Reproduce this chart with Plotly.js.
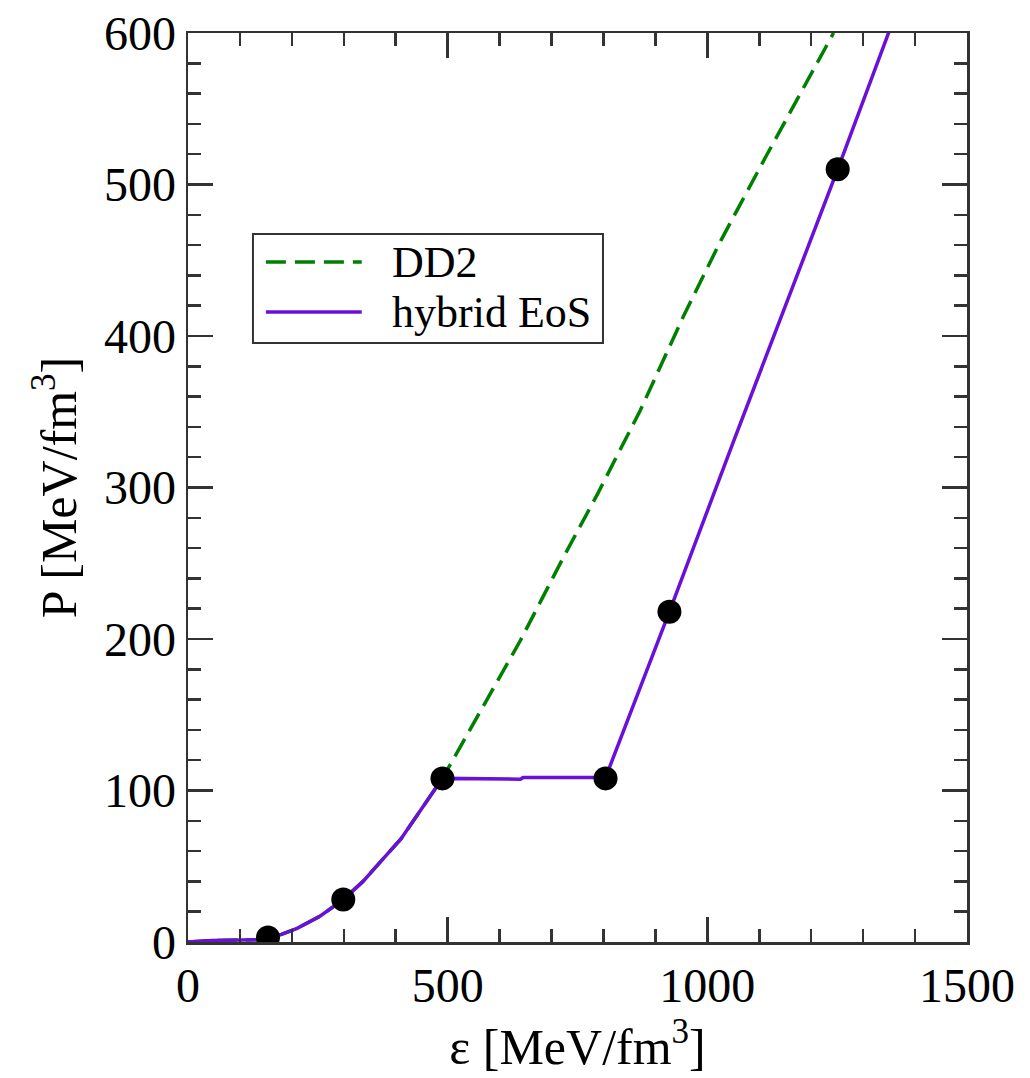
<!DOCTYPE html>
<html>
<head>
<meta charset="utf-8">
<script src="https://cdn.plot.ly/plotly-3.0.1.min.js"></script>
<style>html,body{margin:0;padding:0;background:#fff;}</style>
</head>
<body>
<div id="chart" style="width:1030px;height:1078px;"></div>
<script>
// DD2 equation of state (energy density vs pressure)
const dd2Eps = [0, 46, 139, 154, 180, 210, 254, 299, 337, 376, 410, 434, 472, 490, 640, 723, 789, 833, 871, 954, 1026, 1112, 1193, 1243];
const dd2P   = [0, 1, 1.5, 3, 5, 9, 17, 28, 40, 55, 68, 80, 99, 108, 199, 254, 296, 325, 351, 413, 463, 518, 569, 600];

// hybrid EoS
const hybEps = [0, 46, 139, 154, 180, 210, 254, 299, 337, 376, 410, 434, 472, 490, 640, 645, 804, 927, 1051, 1251, 1350];
const hybP   = [0, 1, 1.5, 3, 5, 9, 17, 28, 40, 55, 68, 80, 99, 108, 107.5, 108.5, 108.5, 218, 331, 510, 601];

// marked points on hybrid EoS
const dotEps = [154, 299, 490, 804, 927, 1251];
const dotP   = [3, 28, 108, 108, 218, 510];

const xTicks = [0, 500, 1000, 1500];
const yTicks = [0, 100, 200, 300, 400, 500, 600];

const seriesNames = ["DD2", "hybrid EoS"];
const seriesColors = ["#008000", "#6a10d8"];
const seriesDash = ["20px,9px", "solid"];

const serif = "Liberation Serif, Times New Roman, serif";
const frame = "#333333";

const traces = [
  {x: dd2Eps, y: dd2P, mode: "lines", name: seriesNames[0],
   line: {color: seriesColors[0], width: 3.5, dash: seriesDash[0]}},
  {x: hybEps, y: hybP, mode: "lines", name: seriesNames[1],
   line: {color: seriesColors[1], width: 3.5}},
  {x: dotEps, y: dotP, mode: "markers", showlegend: false,
   marker: {color: "#000000", size: 24}}
];

const axisCommon = {
  showgrid: false, zeroline: false,
  showline: true, linecolor: frame, linewidth: 2.5, mirror: "allticks",
  ticks: "inside", ticklen: 25, tickwidth: 2.5, tickcolor: frame,
  tickfont: {family: serif, size: 48, color: "#000"},
  minor: {ticks: "inside", ticklen: 13, tickwidth: 2.5, tickcolor: frame}
};

// hand-placed legend box (paper coordinates)
const legX0 = 0.0834, legX1 = 0.5327, legY0 = 0.659, legY1 = 0.779;
const legRows = [0.748, 0.693];
const legLineX0 = 0.100, legLineX1 = 0.223, legTextX = 0.259;

const shapes = [
  {type: "rect", xref: "paper", yref: "paper", x0: legX0, x1: legX1, y0: legY0, y1: legY1,
   line: {color: frame, width: 2}, fillcolor: "#fff", layer: "above"}
];
const annotations = [];
seriesNames.forEach((nm, i) => {
  shapes.push({type: "line", xref: "paper", yref: "paper",
    x0: legLineX0, x1: legLineX1, y0: legRows[i], y1: legRows[i],
    line: {color: seriesColors[i], width: 3.5, dash: seriesDash[i]}, layer: "above"});
  annotations.push({xref: "paper", yref: "paper", x: legTextX, y: legRows[i],
    xanchor: "left", yanchor: "middle", text: nm, showarrow: false,
    font: {family: serif, size: 44, color: "#000"}});
});

const layout = {
  width: 1030, height: 1078,
  margin: {l: 188, r: 63, t: 33, b: 136},
  paper_bgcolor: "#fff", plot_bgcolor: "#fff",
  showlegend: false,
  shapes: shapes,
  annotations: annotations,
  xaxis: Object.assign({}, axisCommon, {
    range: [0, 1500], tickmode: "array", tickvals: xTicks, ticktext: xTicks.map(String),
    minor: Object.assign({}, axisCommon.minor, {dtick: 100, tick0: 0}),
    title: {text: "ε [MeV/fm<sup>3</sup>]", font: {family: serif, size: 50, color: "#000"}, standoff: 10}
  }),
  yaxis: Object.assign({}, axisCommon, {
    range: [0, 600], tickmode: "array", tickvals: yTicks, ticktext: yTicks.map(String),
    minor: Object.assign({}, axisCommon.minor, {dtick: 20, tick0: 0}),
    title: {text: "P [MeV/fm<sup>3</sup>]", font: {family: serif, size: 50, color: "#000"}, standoff: 12}
  })
};

Plotly.newPlot("chart", traces, layout, {displayModeBar: false, staticPlot: true});
</script>
</body>
</html>
